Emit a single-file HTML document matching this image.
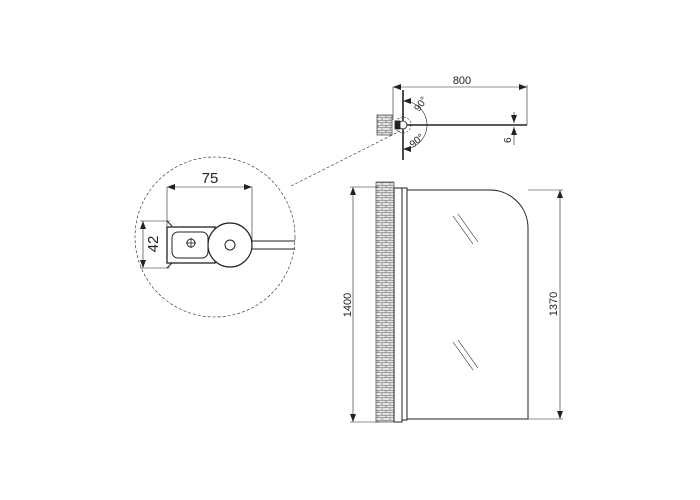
<!DOCTYPE html>
<html><head><meta charset="utf-8"><style>
html,body{margin:0;padding:0;background:#fff}
svg{display:block}
text{font-family:"Liberation Sans",sans-serif;fill:#222}
</style></head><body>
<svg width="700" height="500" viewBox="0 0 700 500" xmlns="http://www.w3.org/2000/svg">
<defs>
<pattern id="brick" width="8" height="5" patternUnits="userSpaceOnUse">
<rect width="8" height="5" fill="#e4e4e4"/>
<path d="M0 0.25H8M0 2.75H8M2 0V2.5M6 2.5V5" stroke="#666" stroke-width="0.6" fill="none"/>
</pattern>
<marker id="ar" markerWidth="8" markerHeight="6" refX="8" refY="3" orient="auto-start-reverse" markerUnits="userSpaceOnUse">
<path d="M0 0L8 3L0 6z" fill="#222"/>
</marker>
</defs>
<g stroke="#222" fill="none" stroke-width="0.8">
<rect x="377" y="115" width="15" height="20" fill="url(#brick)" stroke="#555"/>
<line x1="403" y1="90" x2="403" y2="160" stroke-width="1.6"/>
<line x1="403" y1="125" x2="527" y2="125" stroke-width="1.6"/>
<circle cx="403" cy="125" r="4" fill="#fff"/>
<circle cx="403" cy="125" r="8" stroke-dasharray="2 1.5" stroke-width="0.6"/>
<rect x="395" y="121" width="5" height="8" fill="#222"/>
<line x1="393" y1="87" x2="527" y2="87" marker-start="url(#ar)" marker-end="url(#ar)" stroke-width="0.6"/>
<line x1="393" y1="87" x2="393" y2="120" stroke-width="0.6"/>
<line x1="527" y1="85" x2="527" y2="125" stroke-width="0.6"/>
<path d="M403 101 A24 24 0 0 1 427 125 A24 24 0 0 1 403 149" marker-start="url(#ar)" marker-end="url(#ar)" stroke-width="0.6"/>
<line x1="514" y1="112" x2="514" y2="123" marker-end="url(#ar)" stroke-width="0.6"/>
<line x1="514" y1="145" x2="514" y2="127" marker-end="url(#ar)" stroke-width="0.6"/>
<line x1="291" y1="186" x2="400" y2="131" stroke-dasharray="3 2" stroke-width="0.6"/>
<circle cx="215" cy="237" r="80" stroke-dasharray="3 2" stroke-width="0.6"/>
<line x1="167" y1="187" x2="252" y2="187" marker-start="url(#ar)" marker-end="url(#ar)" stroke-width="0.6"/>
<line x1="167" y1="187" x2="167" y2="226" stroke-width="0.6"/>
<line x1="252" y1="187" x2="252" y2="245" stroke-width="0.6"/>
<line x1="143" y1="221" x2="143" y2="268" marker-start="url(#ar)" marker-end="url(#ar)" stroke-width="0.6"/>
<line x1="140" y1="221" x2="170" y2="221" stroke-width="0.6"/>
<line x1="140" y1="268" x2="170" y2="268" stroke-width="0.6"/>
<path d="M167 221 l5 5 M167 268 l5 -5" stroke-width="1"/>
<rect x="167" y="227" width="48" height="36" stroke-width="1.3"/>
<rect x="172" y="232" width="36" height="26" rx="6" stroke-width="1"/>
<line x1="252" y1="241" x2="295" y2="241" stroke-width="1"/>
<line x1="252" y1="249" x2="295" y2="249" stroke-width="1"/>
<circle cx="230" cy="245" r="22" fill="#fff" stroke-width="1.2"/>
<circle cx="230" cy="245" r="5" stroke-width="1"/>
<circle cx="191" cy="243" r="4" stroke-width="1"/>
<path d="M186 243h10M191 238v10" stroke-width="0.8"/>
<rect x="376" y="182" width="18" height="240" fill="url(#brick)" stroke="#555"/>
<rect x="394" y="188" width="8" height="234" stroke-width="1"/>
<rect x="402" y="188" width="5" height="232" stroke-width="1"/>
<path d="M407 190 H490 A38 38 0 0 1 528 228 V419 H407" stroke-width="1"/>
<path d="M453 216 L473 244 M458 214 L478 242" stroke-width="0.6"/>
<path d="M453 342 L473 370 M458 340 L478 368" stroke-width="0.6"/>
<line x1="353" y1="187" x2="353" y2="422" marker-start="url(#ar)" marker-end="url(#ar)" stroke-width="0.6"/>
<line x1="350" y1="187" x2="378" y2="187" stroke-width="0.6"/>
<line x1="350" y1="422" x2="378" y2="422" stroke-width="0.6"/>
<line x1="560" y1="190" x2="560" y2="419" marker-start="url(#ar)" marker-end="url(#ar)" stroke-width="0.6"/>
<line x1="528" y1="190" x2="563" y2="190" stroke-width="0.6"/>
<line x1="528" y1="419" x2="563" y2="419" stroke-width="0.6"/>
</g>
<text x="462" y="84" font-size="11" text-anchor="middle">800</text>
<text x="0" y="0" font-size="10" transform="translate(419 112) rotate(-55)">90°</text>
<text x="0" y="0" font-size="10" transform="translate(413 148) rotate(-40)">90°</text>
<text x="0" y="0" font-size="10" transform="translate(511 143) rotate(-90)">6</text>
<text x="210" y="183" font-size="15" text-anchor="middle">75</text>
<text x="0" y="0" font-size="15" text-anchor="middle" transform="translate(158 244) rotate(-90)">42</text>
<text x="0" y="0" font-size="11" text-anchor="middle" transform="translate(351 305) rotate(-90)">1400</text>
<text x="0" y="0" font-size="11" text-anchor="middle" transform="translate(557 304) rotate(-90)">1370</text>
</svg>
</body></html>
